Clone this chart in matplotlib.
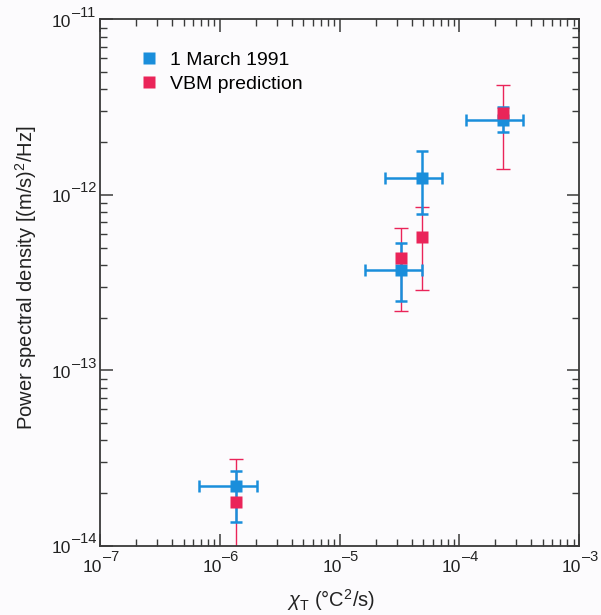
import numpy as np
import matplotlib
matplotlib.use("Agg")
import matplotlib.pyplot as plt
from matplotlib.ticker import LogLocator, NullFormatter

plt.rcParams["font.family"] = ["Liberation Sans", "DejaVu Sans"]
plt.rcParams["mathtext.fontset"] = "custom"
plt.rcParams["mathtext.rm"] = "Liberation Sans"
plt.rcParams["mathtext.it"] = "Liberation Sans:italic"

# ── Data ──────────────────────────────────────────────────────────────────────
# Observations, 1 March 1991
obs_chi      = [1.36e-6, 3.27e-5, 4.89e-5, 2.31e-4]
obs_chi_lo   = [6.71e-7, 1.64e-5, 2.40e-5, 1.14e-4]
obs_chi_hi   = [2.03e-6, 4.86e-5, 7.13e-5, 3.43e-4]
obs_psd      = [2.20e-14, 3.75e-13, 1.25e-12, 2.69e-12]
obs_psd_lo   = [1.37e-14, 2.49e-13, 7.77e-13, 2.29e-12]
obs_psd_hi   = [2.67e-14, 5.31e-13, 1.79e-12, 3.17e-12]

# VBM prediction at the same chi_T values
vbm_chi      = [1.36e-6, 3.27e-5, 4.89e-5, 2.31e-4]
vbm_psd      = [1.79e-14, 4.37e-13, 5.77e-13, 2.94e-12]
vbm_psd_lo   = [5.0e-15, 2.19e-13, 2.87e-13, 1.41e-12]
vbm_psd_hi   = [3.12e-14, 6.52e-13, 8.58e-13, 4.22e-12]

# decade exponents for the tick labels
x_decades = [-7, -6, -5, -4, -3]
y_decades = [-14, -13, -12, -11]

BLUE = "#1a8edb"
RED  = "#ea2459"
EDGE = "#3a3a3a"
TEXT = "#222222"

obs_chi = np.array(obs_chi)
obs_psd = np.array(obs_psd)
vbm_chi = np.array(vbm_chi)
vbm_psd = np.array(vbm_psd)

xerr_obs = [obs_chi - np.array(obs_chi_lo), np.array(obs_chi_hi) - obs_chi]
yerr_obs = [obs_psd - np.array(obs_psd_lo), np.array(obs_psd_hi) - obs_psd]
yerr_vbm = [vbm_psd - np.array(vbm_psd_lo), np.array(vbm_psd_hi) - vbm_psd]

# ── Plotting ──────────────────────────────────────────────────────────────────
fig = plt.figure(figsize=(6.01, 6.15), dpi=100, facecolor="#fcfbfd")
ax = fig.add_axes([0.1664, 0.1122, 0.797, 0.8561])
ax.set_facecolor("#fcfbfd")

ax.errorbar(vbm_chi, vbm_psd, yerr=yerr_vbm, fmt="none", ecolor=RED,
            elinewidth=1.0, capsize=4.7, capthick=1.0, zorder=2)
ax.errorbar(obs_chi, obs_psd, xerr=xerr_obs, yerr=yerr_obs, fmt="none",
            ecolor=BLUE, elinewidth=1.8, capsize=4.3, capthick=1.8, zorder=3)
ax.plot(vbm_chi, vbm_psd, "s", color=RED, markersize=8.5, mec="none", zorder=4)
ax.plot(obs_chi, obs_psd, "s", color=BLUE, markersize=8.5, mec="none", zorder=3.5)

ax.set_xscale("log")
ax.set_yscale("log")
ax.set_xlim(1e-7, 1e-3)
ax.set_ylim(1e-14, 1e-11)

ax.xaxis.set_major_locator(LogLocator(base=10, numticks=10))
ax.xaxis.set_minor_locator(LogLocator(base=10, subs=np.arange(2, 10), numticks=20))
ax.yaxis.set_major_locator(LogLocator(base=10, numticks=10))
ax.yaxis.set_minor_locator(LogLocator(base=10, subs=np.arange(2, 10), numticks=20))
for axis in (ax.xaxis, ax.yaxis):
    axis.set_major_formatter(NullFormatter())
    axis.set_minor_formatter(NullFormatter())

ax.tick_params(which="both", direction="in", top=True, right=True, colors=EDGE)
ax.tick_params(which="major", length=9, width=1.1)
ax.tick_params(which="minor", length=5, width=1.0)
for s in ax.spines.values():
    s.set_color(EDGE)
    s.set_linewidth(1.3)

# Decade labels with a big exponent: "10" and the exponent as two texts
base_fs, exp_fs = 12.5, 10.5
for d in x_decades:
    kw = dict(xycoords=ax.get_xaxis_transform(), textcoords="offset pixels",
              va="baseline", color=TEXT, annotation_clip=False)
    ax.annotate("10", (10.0 ** d, 0), xytext=(2, -26), ha="right", fontsize=base_fs, **kw)
    ax.annotate(f"\u2013{-d}", (10.0 ** d, 0), xytext=(2.5, -15), ha="left",
                fontsize=exp_fs, **kw)
for d in y_decades:
    kw = dict(xycoords=ax.get_yaxis_transform(), textcoords="offset pixels",
              va="baseline", color=TEXT, annotation_clip=False)
    ax.annotate("10", (0, 10.0 ** d), xytext=(-29, -7.5), ha="right", fontsize=base_fs, **kw)
    ax.annotate(f"\u2013{-d}", (0, 10.0 ** d), xytext=(-28.5, 2.5), ha="left",
                fontsize=exp_fs, **kw)

ax.set_xlabel(r"$\chi_{\mathrm{T}}$ ($\mathrm{°C^2/s}$)", fontsize=14.5, color=TEXT)
ax.set_ylabel(r"Power spectral density [(m/s)$^2$/Hz]", fontsize=14.5, color=TEXT)
ax.xaxis.set_label_coords(0.482, -0.078)
ax.yaxis.set_label_coords(-0.128, 0.51)

# Legend entries drawn as plain markers with text
ax.plot([], [], "s", color=BLUE, markersize=8.5, mec="none", label="1 March 1991")
ax.plot([], [], "s", color=RED, markersize=8.5, mec="none", label="VBM prediction")
ax.legend(loc="upper left", bbox_to_anchor=(0.07, 0.955), frameon=False,
          fontsize=14, handlelength=0.8, handletextpad=0.7, labelspacing=0.35,
          borderaxespad=0)

fig.savefig("out.png", dpi=100, facecolor=fig.get_facecolor())
